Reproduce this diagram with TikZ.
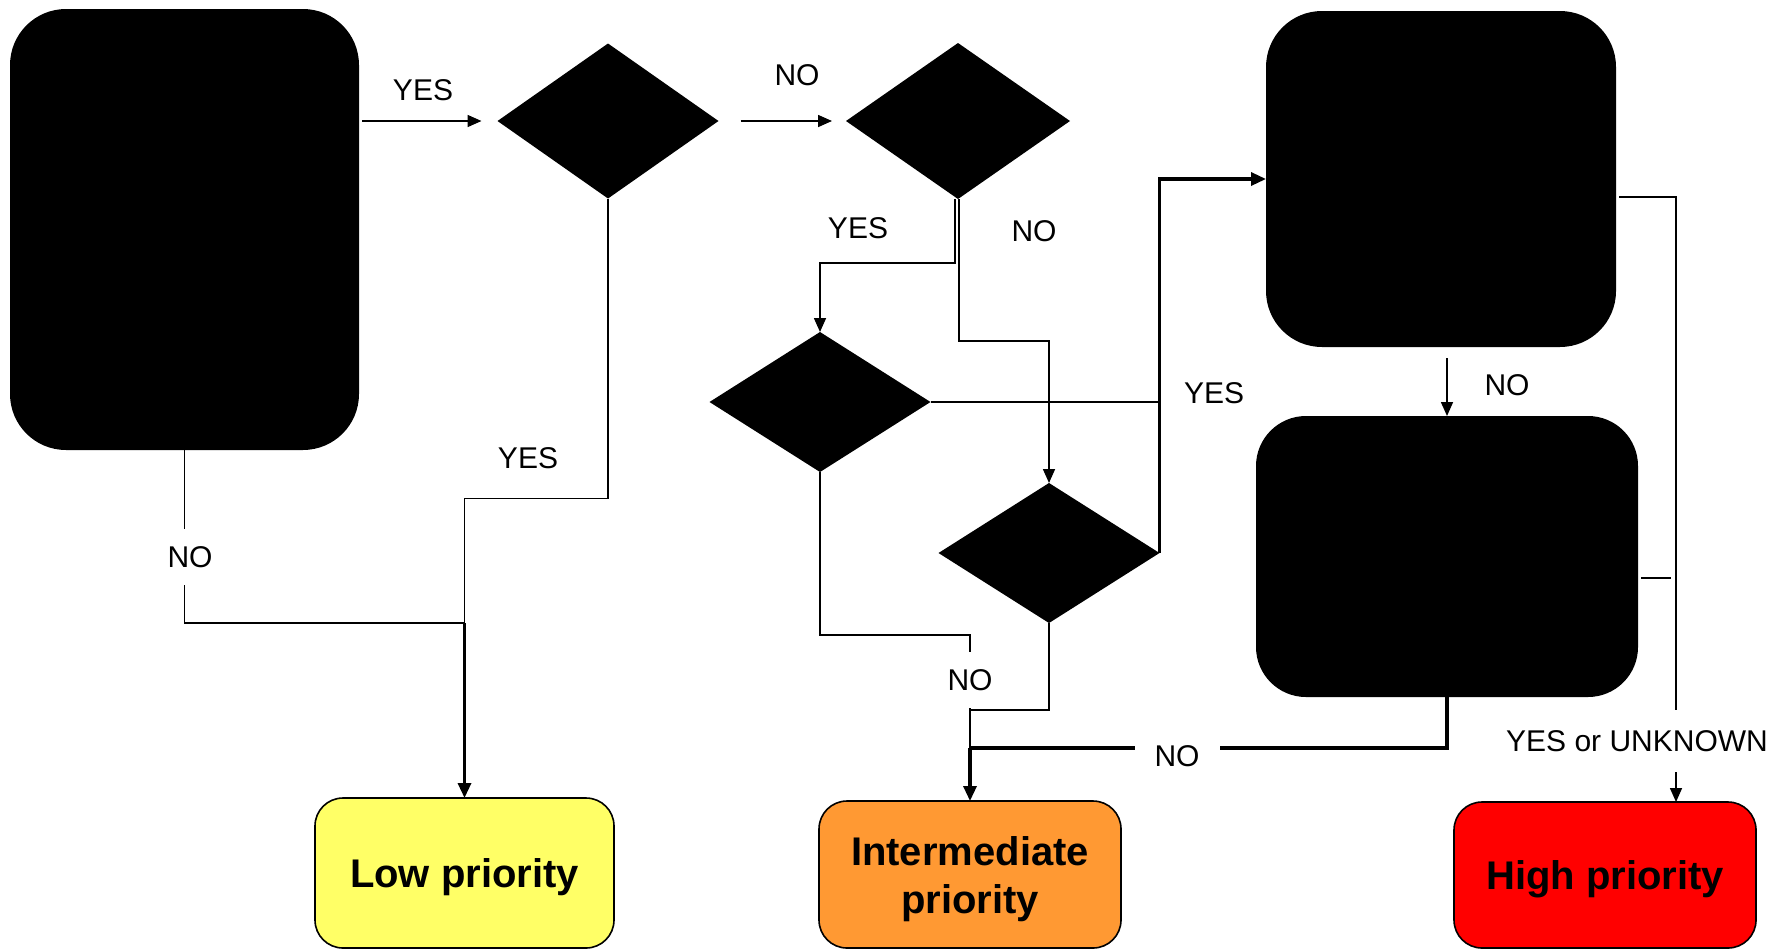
\documentclass[tikz,border=0pt]{standalone}
\usepackage{fontspec}
\setmainfont{Liberation Sans}
\usetikzlibrary{
    arrows.meta,
    shapes.geometric
}
\definecolor{lowyellow}{HTML}{FFFF66}
\definecolor{midorange}{HTML}{FF9933}
\definecolor{highred}{HTML}{FF0000}

\begin{document}
\begin{tikzpicture}[
        x=1pt, y=-1pt,
        crit/.style={fill=black, rounded corners=56pt, inner sep=0pt, outer sep=0pt},
        ask/.style={diamond, fill=black, inner sep=0pt, outer sep=0pt},
        prio/.style={draw, line width=1.6pt, rounded corners=28pt, inner sep=0pt, outer sep=0pt,
                     font=\bfseries\fontsize{40}{48}\selectfont, align=center, text depth=0pt},
        lbl/.style={font=\fontsize{30}{36}\selectfont, inner sep=0pt},
        gaplbl/.style={lbl, fill=white, inner xsep=20pt, inner ysep=17pt},
        ln/.style={line width=1.6pt},
        arr/.style={-{Triangle[length=14pt, width=12pt]}, line width=1.6pt},
        tln/.style={line width=3.4pt},
        tarr/.style={-{Triangle[length=15pt, width=13pt]}, line width=3.2pt},
    ]
    \useasboundingbox (0,0) rectangle (1776,951);

    % Questions
    \node[crit, minimum width=349pt, minimum height=441pt] (start) at (184.5,229.5) {};
    \node[ask, minimum width=221pt, minimum height=155pt] (askA) at (608,121) {};
    \node[ask, minimum width=224pt, minimum height=156pt] (askB) at (958,121) {};
    \node[ask, minimum width=221pt, minimum height=140pt] (askC) at (820,402) {};
    \node[ask, minimum width=221pt, minimum height=140pt] (askD) at (1049,553) {};
    \node[crit, minimum width=350pt, minimum height=336pt] (checkA) at (1441,179) {};
    \node[crit, minimum width=382pt, minimum height=281pt, rounded corners=50pt] (checkB) at (1447,556.5) {};

    % Outcomes
    \node[prio, fill=lowyellow, minimum width=299pt, minimum height=150pt] (low) at (464.5,873) {Low priority};
    \node[prio, fill=midorange, minimum width=302pt, minimum height=147pt] (mid) at (970,874.5) {Intermediate\\priority};
    \node[prio, fill=highred, minimum width=302pt, minimum height=146pt] (high) at (1605,875) {High priority};

    \coordinate (lowjoin) at (low.north |- 0,623);
    \coordinate (midjoin) at (mid.north |- 0,748);
    \coordinate (rbar) at (1676,197);

    % Top row
    \draw[arr, shorten <=3pt, shorten >=16pt] (start.east |- askA.west) -- (askA.west);
    \draw[arr, shorten <=22pt, shorten >=14pt] (askA.east) -- (askB.west);

    % Towards low priority
    \draw[ln] (start.south) -- (start.south |- lowjoin) -- (lowjoin);
    \draw[ln] (askA.south) -- ++(0,300) -| (lowjoin);
    \draw[tarr] (lowjoin) -- (low.north);

    % Middle questions
    \draw[arr] ([xshift=-3pt]askB.south) -- ++(0,64) -| (askC.north);
    \draw[arr] ([xshift=1pt]askB.south) -- ++(0,142) -| (askD.north);
    \draw[ln] (askC.east) -- (askC.east -| askD.east);
    \draw[tarr] (askD.east) |- (checkA.west);

    % Towards intermediate priority
    \draw[ln] (askC.south) -- ++(0,163) -| (midjoin);
    \draw[ln] (askD.south) -- ++(0,87) -| (midjoin);
    \draw[tln] (checkB.south) |- (midjoin);
    \draw[tarr] (midjoin) -- (mid.north);

    % Right column
    \draw[arr, shorten <=11pt] (checkA.south -| checkB.north) -- (checkB.north);
    \draw[arr, shorten <=3pt] ([yshift=-18pt]checkA.east) -| (high.north -| rbar);
    \draw[ln, shorten <=3pt, shorten >=5pt] ([yshift=-21.5pt]checkB.east) -- ([yshift=-21.5pt]checkB.east -| rbar);

    % Labels
    \node[lbl] (yesA) at (423,90) {YES};
    \node[lbl] (noA) at (797,75) {NO};
    \node[lbl] (yesB) at (858,228) {YES};
    \node[lbl] (noB) at (1034,231) {NO};
    \node[lbl] (yesC) at (1214,393) {YES};
    \node[lbl] (noC) at (1507,385) {NO};
    \node[lbl] (yesD) at (528,458) {YES};
    \node[gaplbl] (noD) at (190,557) {NO};
    \node[gaplbl] (noE) at (970,680) {NO};
    \node[gaplbl] (noF) at (1177,756) {NO};
    \node[gaplbl, inner ysep=20pt] (unk) at (1637,741) {YES or UNKNOWN};
\end{tikzpicture}
\end{document}
